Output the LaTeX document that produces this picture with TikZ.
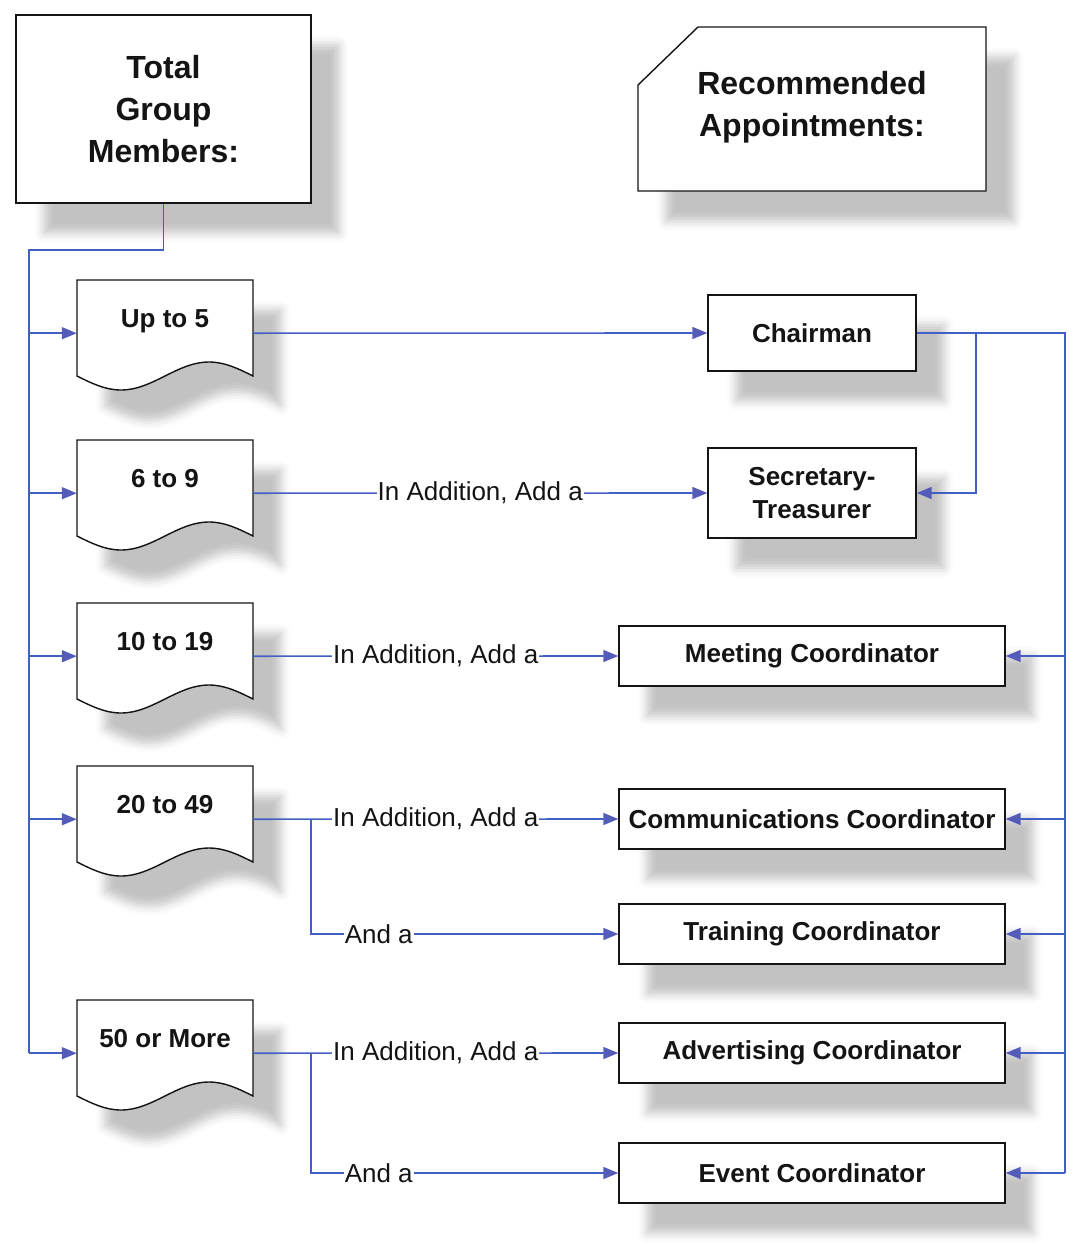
\documentclass[tikz,border=0pt]{standalone}
\usepackage{fontspec}
\setmainfont{Liberation Sans}
\usetikzlibrary{arrows.meta,positioning,calc,shadows.blur}
\definecolor{C_wire}{RGB}{66,96,196}
\definecolor{C_tip}{RGB}{84,92,186}
\definecolor{C_ink}{RGB}{20,20,20}

% document shape: outline with wavy bottom, then the named node on top
\newcommand{\docnode}[3]{%
  \draw[docline] (#2) ++(-88,0) -- ++(176,0) -- ++(0,96)
    sin ++(-44,-14) cos ++(-44,14) sin ++(-44,14) cos ++(-44,-14) -- cycle;
  \node[doc] (#1) at (#2) {#3};}

\begin{document}
\begin{tikzpicture}[x=1pt, y=-1pt,
    softshadow/.style={blur shadow={shadow xshift=28pt, shadow yshift=-30pt,
        shadow blur radius=9pt, shadow opacity=24}},
    docline/.style={draw=C_ink, line width=1.4pt, fill=white, softshadow},
    box/.style={draw=C_ink, line width=1.4pt, fill=white, softshadow, align=center,
        font=\bfseries\fontsize{26}{33}\selectfont, text=C_ink},
    title/.style={align=center, font=\bfseries\fontsize{32}{42}\selectfont, text=C_ink},
    doc/.style={anchor=north, minimum width=176pt, inner xsep=0pt, inner ysep=0pt,
        text height=47pt, text depth=59pt, font=\bfseries\fontsize{26}{30}\selectfont, text=C_ink},
    wire/.style={draw=C_wire, line width=1.6pt},
    feed/.style={wire, -{Triangle[length=15pt, width=12pt, color=C_tip]}},
    addlbl/.style={fill=white, inner xsep=1pt, inner ysep=1pt,
        font=\fontsize{26}{30}\selectfont, text=C_ink},
]
\useasboundingbox (0,0) rectangle (1080,1245);

% Headings
\node[box, title, minimum width=295pt, minimum height=188pt] (total) at (163.5,109)
    {Total\\Group\\Members:};
\draw[docline] (638,191) -- (638,85) -- (698,27) -- (986,27) -- (986,191) -- cycle;
\node[title, minimum width=348pt, minimum height=164pt] (recm) at (812,107)
    {Recommended\\Appointments:};

% Group sizes (document shapes)
\docnode{d5}{165,280}{Up to 5}
\docnode{d6}{165,440}{6 to 9}
\docnode{d10}{165,603}{10 to 19}
\docnode{d20}{165,766}{20 to 49}
\docnode{d50}{165,1000}{50 or More}

% Appointments
\node[box, minimum width=208pt, minimum height=76pt] (chair) at (812,333) {Chairman};
\node[box, minimum width=208pt, minimum height=90pt] (sec)   at (812,493) {Secretary-\\Treasurer};
\node[box, minimum width=386pt, minimum height=60pt] (meet)  at (812,656)  {Meeting Coordinator};
\node[box, minimum width=386pt, minimum height=60pt] (comm)  at (812,819)  {Communications Coordinator};
\node[box, minimum width=386pt, minimum height=60pt] (train) at (812,934)  {Training Coordinator};
\node[box, minimum width=386pt, minimum height=60pt] (adv)   at (812,1053) {Advertising Coordinator};
\node[box, minimum width=386pt, minimum height=60pt] (event) at (812,1173) {Event Coordinator};

% Left bus
\coordinate (lbus) at (29,250);
\draw[wire] (total.south) |- (lbus) -- (lbus |- d50.west);
\foreach \d in {d5,d6,d10,d20,d50}
  \draw[feed] (lbus |- \d.west) -- (\d.west);

% Size to appointment
\draw[feed] (d5.east) -- (chair.west);
\draw[feed] (d6.east) -- node[addlbl] {In Addition, Add a} (sec.west);
\draw[feed] (d10.east) -- node[addlbl] {In Addition, Add a} (meet.west);
\draw[feed] (d20.east) -- node[addlbl] {In Addition, Add a} (comm.west);
\draw[feed] (d50.east) -- node[addlbl] {In Addition, Add a} (adv.west);
\coordinate (b20) at ($(d20.east)+(58,0)$);
\draw[feed] (b20) |- node[addlbl, pos=0.61] {And a} (train.west);
\coordinate (b50) at ($(d50.east)+(58,0)$);
\draw[feed] (b50) |- node[addlbl, pos=0.61] {And a} (event.west);

% Right bus
\coordinate (rbus) at (1065,333);
\draw[wire] (chair.east) -- (rbus) -- (rbus |- event.east);
\draw[feed] ($(chair.east)!0.4!(rbus)$) |- (sec.east);
\foreach \b in {meet,comm,train,adv,event}
  \draw[feed] (rbus |- \b.east) -- (\b.east);
\end{tikzpicture}
\end{document}
